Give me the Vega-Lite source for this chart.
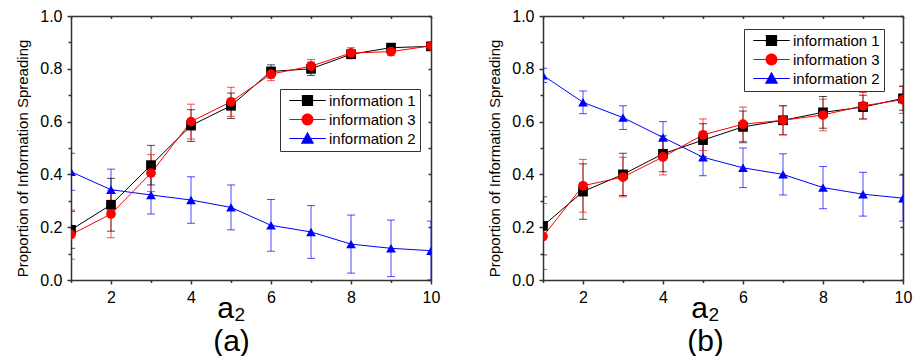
{
  "$schema": "https://vega.github.io/schema/vega-lite/v6.json",
  "padding": {"left": 15, "top": 8, "right": 5, "bottom": 0},
  "spacing": 47,
  "config": {
    "font": "Liberation Sans",
    "view": {"stroke": null},
    "axis": {"labelFont": "Liberation Sans", "labelFontSize": 16, "labelColor": "black", "domainColor": "#333", "tickColor": "#333", "domainWidth": 1.5, "tickWidth": 1.5, "grid": false, "labelFlush": false, "labelOverlap": false, "titleFontWeight": "normal", "titleColor": "black", "titleFont": "Liberation Sans"}
  },
  "data": {"values": [
    {"panel":"a","a2":1,"series":"information 1","y":0.19,"lo":0.12,"hi":0.26},
    {"panel":"a","a2":2,"series":"information 1","y":0.285,"lo":0.185,"hi":0.385},
    {"panel":"a","a2":3,"series":"information 1","y":0.435,"lo":0.36,"hi":0.51},
    {"panel":"a","a2":4,"series":"information 1","y":0.585,"lo":0.525,"hi":0.645},
    {"panel":"a","a2":5,"series":"information 1","y":0.66,"lo":0.612,"hi":0.708},
    {"panel":"a","a2":6,"series":"information 1","y":0.79,"lo":0.765,"hi":0.815},
    {"panel":"a","a2":7,"series":"information 1","y":0.80,"lo":0.775,"hi":0.825},
    {"panel":"a","a2":8,"series":"information 1","y":0.855,"lo":0.84,"hi":0.87},
    {"panel":"a","a2":9,"series":"information 1","y":0.88,"lo":0.87,"hi":0.89},
    {"panel":"a","a2":10,"series":"information 1","y":0.885,"lo":0.877,"hi":0.893},
    {"panel":"a","a2":1,"series":"information 2","y":0.41,"lo":0.34,"hi":0.48},
    {"panel":"a","a2":2,"series":"information 2","y":0.342,"lo":0.264,"hi":0.42},
    {"panel":"a","a2":3,"series":"information 2","y":0.322,"lo":0.25,"hi":0.395},
    {"panel":"a","a2":4,"series":"information 2","y":0.303,"lo":0.215,"hi":0.391},
    {"panel":"a","a2":5,"series":"information 2","y":0.275,"lo":0.19,"hi":0.36},
    {"panel":"a","a2":6,"series":"information 2","y":0.207,"lo":0.109,"hi":0.305},
    {"panel":"a","a2":7,"series":"information 2","y":0.182,"lo":0.082,"hi":0.282},
    {"panel":"a","a2":8,"series":"information 2","y":0.136,"lo":0.026,"hi":0.246},
    {"panel":"a","a2":9,"series":"information 2","y":0.12,"lo":0.013,"hi":0.227},
    {"panel":"a","a2":10,"series":"information 2","y":0.111,"lo":0.0,"hi":0.223},
    {"panel":"a","a2":1,"series":"information 3","y":0.172,"lo":0.079,"hi":0.265},
    {"panel":"a","a2":2,"series":"information 3","y":0.25,"lo":0.16,"hi":0.34},
    {"panel":"a","a2":3,"series":"information 3","y":0.405,"lo":0.335,"hi":0.475},
    {"panel":"a","a2":4,"series":"information 3","y":0.60,"lo":0.534,"hi":0.666},
    {"panel":"a","a2":5,"series":"information 3","y":0.675,"lo":0.62,"hi":0.73},
    {"panel":"a","a2":6,"series":"information 3","y":0.78,"lo":0.755,"hi":0.805},
    {"panel":"a","a2":7,"series":"information 3","y":0.81,"lo":0.785,"hi":0.835},
    {"panel":"a","a2":8,"series":"information 3","y":0.86,"lo":0.84,"hi":0.88},
    {"panel":"a","a2":9,"series":"information 3","y":0.865,"lo":0.85,"hi":0.88},
    {"panel":"a","a2":10,"series":"information 3","y":0.887,"lo":0.877,"hi":0.897},
    {"panel":"b","a2":1,"series":"information 1","y":0.205,"lo":0.095,"hi":0.315},
    {"panel":"b","a2":2,"series":"information 1","y":0.335,"lo":0.23,"hi":0.44},
    {"panel":"b","a2":3,"series":"information 1","y":0.40,"lo":0.32,"hi":0.48},
    {"panel":"b","a2":4,"series":"information 1","y":0.478,"lo":0.41,"hi":0.546},
    {"panel":"b","a2":5,"series":"information 1","y":0.53,"lo":0.468,"hi":0.592},
    {"panel":"b","a2":6,"series":"information 1","y":0.58,"lo":0.52,"hi":0.64},
    {"panel":"b","a2":7,"series":"information 1","y":0.605,"lo":0.55,"hi":0.66},
    {"panel":"b","a2":8,"series":"information 1","y":0.635,"lo":0.575,"hi":0.695},
    {"panel":"b","a2":9,"series":"information 1","y":0.655,"lo":0.61,"hi":0.70},
    {"panel":"b","a2":10,"series":"information 1","y":0.688,"lo":0.643,"hi":0.733},
    {"panel":"b","a2":1,"series":"information 2","y":0.775,"lo":0.748,"hi":0.802},
    {"panel":"b","a2":2,"series":"information 2","y":0.673,"lo":0.63,"hi":0.716},
    {"panel":"b","a2":3,"series":"information 2","y":0.615,"lo":0.57,"hi":0.66},
    {"panel":"b","a2":4,"series":"information 2","y":0.54,"lo":0.48,"hi":0.60},
    {"panel":"b","a2":5,"series":"information 2","y":0.465,"lo":0.395,"hi":0.535},
    {"panel":"b","a2":6,"series":"information 2","y":0.425,"lo":0.35,"hi":0.50},
    {"panel":"b","a2":7,"series":"information 2","y":0.40,"lo":0.322,"hi":0.478},
    {"panel":"b","a2":8,"series":"information 2","y":0.35,"lo":0.27,"hi":0.43},
    {"panel":"b","a2":9,"series":"information 2","y":0.325,"lo":0.242,"hi":0.408},
    {"panel":"b","a2":10,"series":"information 2","y":0.31,"lo":0.223,"hi":0.397},
    {"panel":"b","a2":1,"series":"information 3","y":0.165,"lo":0.04,"hi":0.29},
    {"panel":"b","a2":2,"series":"information 3","y":0.357,"lo":0.257,"hi":0.457},
    {"panel":"b","a2":3,"series":"information 3","y":0.39,"lo":0.315,"hi":0.465},
    {"panel":"b","a2":4,"series":"information 3","y":0.466,"lo":0.398,"hi":0.534},
    {"panel":"b","a2":5,"series":"information 3","y":0.55,"lo":0.49,"hi":0.61},
    {"panel":"b","a2":6,"series":"information 3","y":0.59,"lo":0.525,"hi":0.655},
    {"panel":"b","a2":7,"series":"information 3","y":0.605,"lo":0.55,"hi":0.66},
    {"panel":"b","a2":8,"series":"information 3","y":0.625,"lo":0.565,"hi":0.685},
    {"panel":"b","a2":9,"series":"information 3","y":0.66,"lo":0.61,"hi":0.71},
    {"panel":"b","a2":10,"series":"information 3","y":0.683,"lo":0.631,"hi":0.735}
  ]},
  "resolve": {"scale": {"x": "independent", "y": "independent", "color": "independent", "shape": "independent"}, "legend": {"color": "independent", "shape": "independent"}},
  "hconcat": [
    {
      "width": 360, "height": 264,
      "transform": [{"filter": "datum.panel == 'a'"}],
      "resolve": {"scale": {"color": "independent", "shape": "independent"}, "axis": {"x": "independent", "y": "independent"}},
      "layer": [
        {"mark": {"type": "rule", "clip": true, "opacity": 0.7, "strokeWidth": 1},
         "encoding": {
           "x": {"field": "a2", "type": "quantitative", "scale": {"domain": [1, 10], "nice": false, "zero": false}, "axis": {"orient": "bottom", "values": [2, 4, 6, 8, 10], "tickSize": 4, "labelPadding": 5, "title": ["a₂", "(a)"], "titleFontSize": 30, "titleX": 160, "titleY": 37, "titleBaseline": "alphabetic", "titleLineHeight": 33, "titleAlign": "center"}},
           "y": {"field": "lo", "type": "quantitative", "scale": {"domain": [0, 1], "nice": false, "zero": false}, "axis": {"orient": "left", "values": [0, 0.2, 0.4, 0.6, 0.8, 1], "format": ".1f", "tickSize": 4, "labelPadding": 5, "title": "Proportion of Information Spreading", "titleFontSize": 15, "titleX": -49, "titleY": 142, "titleAngle": 270, "titleBaseline": "middle", "titleAlign": "center"}},
           "y2": {"field": "hi"},
           "color": {"field": "series", "type": "nominal", "scale": {"domain": ["information 1", "information 3", "information 2"], "range": ["#000000", "#FF0000", "#0000FF"]}, "legend": null}
         }},
        {"mark": {"type": "tick", "clip": true, "opacity": 0.7, "orient": "horizontal", "size": 8, "thickness": 1},
         "encoding": {
           "x": {"field": "a2", "type": "quantitative", "scale": {"domain": [1, 10], "nice": false, "zero": false}, "axis": {"orient": "bottom", "values": [1, 3, 5, 7, 9], "tickSize": 2.5, "labels": false, "domain": false, "title": null}},
           "y": {"field": "lo", "type": "quantitative", "scale": {"domain": [0, 1], "nice": false, "zero": false}, "axis": {"orient": "left", "values": [0.1, 0.3, 0.5, 0.7, 0.9], "tickSize": 3, "labels": false, "domain": false, "title": null}},
           "color": {"field": "series", "type": "nominal", "scale": {"domain": ["information 1", "information 3", "information 2"], "range": ["#000000", "#FF0000", "#0000FF"]}, "legend": null}
         }},
        {"mark": {"type": "tick", "clip": true, "opacity": 0.7, "orient": "horizontal", "size": 8, "thickness": 1},
         "encoding": {
           "x": {"field": "a2", "type": "quantitative", "scale": {"domain": [1, 10], "nice": false, "zero": false}, "axis": {"orient": "top", "values": [1, 2, 3, 4, 5, 6, 7, 8, 9, 10], "tickSize": -2.5, "labels": false, "title": null}},
           "y": {"field": "hi", "type": "quantitative", "scale": {"domain": [0, 1], "nice": false, "zero": false}, "axis": {"orient": "right", "values": [0, 0.1, 0.2, 0.3, 0.4, 0.5, 0.6, 0.7, 0.8, 0.9, 1], "tickSize": -3, "labels": false, "title": null}},
           "color": {"field": "series", "type": "nominal", "scale": {"domain": ["information 1", "information 3", "information 2"], "range": ["#000000", "#FF0000", "#0000FF"]}, "legend": null}
         }},
        {"mark": {"type": "line", "clip": true, "strokeWidth": 1},
         "encoding": {
           "x": {"field": "a2", "type": "quantitative", "scale": {"domain": [1, 10], "nice": false, "zero": false}, "axis": null},
           "y": {"field": "y", "type": "quantitative", "scale": {"domain": [0, 1], "nice": false, "zero": false}, "axis": null},
           "color": {"field": "series", "type": "nominal", "scale": {"domain": ["information 1", "information 3", "information 2"], "range": ["#000000", "#FF0000", "#0000FF"]}, "legend": null}
         }},
        {"mark": {"type": "point", "clip": true, "filled": true, "opacity": 1, "size": 95},
         "encoding": {
           "x": {"field": "a2", "type": "quantitative", "scale": {"domain": [1, 10], "nice": false, "zero": false}, "axis": null},
           "y": {"field": "y", "type": "quantitative", "scale": {"domain": [0, 1], "nice": false, "zero": false}, "axis": null},
           "color": {"field": "series", "type": "nominal", "scale": {"domain": ["information 1", "information 3", "information 2"], "range": ["#000000", "#FF0000", "#0000FF"]}, "legend": null},
           "shape": {"field": "series", "type": "nominal", "scale": {"domain": ["information 1", "information 3", "information 2"], "range": ["square", "circle", "triangle-up"]}, "legend": null}
         }},
        {"transform": [{"filter": "datum.a2 > 100"}],
         "mark": {"type": "point", "filled": true, "opacity": 1, "size": 196},
         "encoding": {
           "x": {"field": "a2", "type": "quantitative", "scale": {"domain": [1, 10], "nice": false, "zero": false}, "axis": null},
           "y": {"field": "y", "type": "quantitative", "scale": {"domain": [0, 1], "nice": false, "zero": false}, "axis": null},
           "color": {"field": "series", "type": "nominal", "scale": {"domain": ["information 1", "information 3", "information 2"], "range": ["#000000", "#FF0000", "#0000FF"]}, "legend": {"title": null, "orient": "none", "legendX": 209, "legendY": 73, "strokeColor": "#333", "fillColor": "white", "padding": 4, "symbolSize": 196, "symbolOffset": 16, "labelOffset": 14, "labelFontSize": 15, "labelFont": "Liberation Sans", "labelColor": "black", "rowPadding": 3, "symbolStrokeWidth": 0}},
           "shape": {"field": "series", "type": "nominal", "scale": {"domain": ["information 1", "information 3", "information 2"], "range": ["M-2.6,-0.07H2.6V0.07H-2.6Z M-0.8,-0.8H0.8V0.8H-0.8Z", "M-2.6,-0.07H2.6V0.07H-2.6Z M-0.85,0A0.85,0.85 0 1,1 0.85,0A0.85,0.85 0 1,1 -0.85,0Z", "M-2.6,-0.07H2.6V0.07H-2.6Z M0,-0.95L0.95,0.75H-0.95Z"]}, "legend": {"title": null, "orient": "none", "legendX": 209, "legendY": 73, "strokeColor": "#333", "fillColor": "white", "padding": 4, "symbolSize": 196, "symbolOffset": 16, "labelOffset": 14, "labelFontSize": 15, "labelFont": "Liberation Sans", "labelColor": "black", "rowPadding": 3, "symbolStrokeWidth": 0}}
         }}
      ]
    },
    {
      "width": 360, "height": 264,
      "transform": [{"filter": "datum.panel == 'b'"}],
      "resolve": {"scale": {"color": "independent", "shape": "independent"}, "axis": {"x": "independent", "y": "independent"}},
      "layer": [
        {"mark": {"type": "rule", "clip": true, "opacity": 0.7, "strokeWidth": 1},
         "encoding": {
           "x": {"field": "a2", "type": "quantitative", "scale": {"domain": [1, 10], "nice": false, "zero": false}, "axis": {"orient": "bottom", "values": [2, 4, 6, 8, 10], "tickSize": 4, "labelPadding": 5, "title": ["a₂", "(b)"], "titleFontSize": 30, "titleX": 162, "titleY": 37, "titleBaseline": "alphabetic", "titleLineHeight": 33, "titleAlign": "center"}},
           "y": {"field": "lo", "type": "quantitative", "scale": {"domain": [0, 1], "nice": false, "zero": false}, "axis": {"orient": "left", "values": [0, 0.2, 0.4, 0.6, 0.8, 1], "format": ".1f", "tickSize": 4, "labelPadding": 5, "title": "Proportion of Information Spreading", "titleFontSize": 15, "titleX": -49, "titleY": 142, "titleAngle": 270, "titleBaseline": "middle", "titleAlign": "center"}},
           "y2": {"field": "hi"},
           "color": {"field": "series", "type": "nominal", "scale": {"domain": ["information 1", "information 3", "information 2"], "range": ["#000000", "#FF0000", "#0000FF"]}, "legend": null}
         }},
        {"mark": {"type": "tick", "clip": true, "opacity": 0.7, "orient": "horizontal", "size": 8, "thickness": 1},
         "encoding": {
           "x": {"field": "a2", "type": "quantitative", "scale": {"domain": [1, 10], "nice": false, "zero": false}, "axis": {"orient": "bottom", "values": [1, 3, 5, 7, 9], "tickSize": 2.5, "labels": false, "domain": false, "title": null}},
           "y": {"field": "lo", "type": "quantitative", "scale": {"domain": [0, 1], "nice": false, "zero": false}, "axis": {"orient": "left", "values": [0.1, 0.3, 0.5, 0.7, 0.9], "tickSize": 3, "labels": false, "domain": false, "title": null}},
           "color": {"field": "series", "type": "nominal", "scale": {"domain": ["information 1", "information 3", "information 2"], "range": ["#000000", "#FF0000", "#0000FF"]}, "legend": null}
         }},
        {"mark": {"type": "tick", "clip": true, "opacity": 0.7, "orient": "horizontal", "size": 8, "thickness": 1},
         "encoding": {
           "x": {"field": "a2", "type": "quantitative", "scale": {"domain": [1, 10], "nice": false, "zero": false}, "axis": {"orient": "top", "values": [1, 2, 3, 4, 5, 6, 7, 8, 9, 10], "tickSize": -2.5, "labels": false, "title": null}},
           "y": {"field": "hi", "type": "quantitative", "scale": {"domain": [0, 1], "nice": false, "zero": false}, "axis": {"orient": "right", "values": [0, 0.1, 0.2, 0.3, 0.4, 0.5, 0.6, 0.7, 0.8, 0.9, 1], "tickSize": -3, "labels": false, "title": null}},
           "color": {"field": "series", "type": "nominal", "scale": {"domain": ["information 1", "information 3", "information 2"], "range": ["#000000", "#FF0000", "#0000FF"]}, "legend": null}
         }},
        {"mark": {"type": "line", "clip": true, "strokeWidth": 1},
         "encoding": {
           "x": {"field": "a2", "type": "quantitative", "scale": {"domain": [1, 10], "nice": false, "zero": false}, "axis": null},
           "y": {"field": "y", "type": "quantitative", "scale": {"domain": [0, 1], "nice": false, "zero": false}, "axis": null},
           "color": {"field": "series", "type": "nominal", "scale": {"domain": ["information 1", "information 3", "information 2"], "range": ["#000000", "#FF0000", "#0000FF"]}, "legend": null}
         }},
        {"mark": {"type": "point", "clip": true, "filled": true, "opacity": 1, "size": 95},
         "encoding": {
           "x": {"field": "a2", "type": "quantitative", "scale": {"domain": [1, 10], "nice": false, "zero": false}, "axis": null},
           "y": {"field": "y", "type": "quantitative", "scale": {"domain": [0, 1], "nice": false, "zero": false}, "axis": null},
           "color": {"field": "series", "type": "nominal", "scale": {"domain": ["information 1", "information 3", "information 2"], "range": ["#000000", "#FF0000", "#0000FF"]}, "legend": null},
           "shape": {"field": "series", "type": "nominal", "scale": {"domain": ["information 1", "information 3", "information 2"], "range": ["square", "circle", "triangle-up"]}, "legend": null}
         }},
        {"transform": [{"filter": "datum.a2 > 100"}],
         "mark": {"type": "point", "filled": true, "opacity": 1, "size": 196},
         "encoding": {
           "x": {"field": "a2", "type": "quantitative", "scale": {"domain": [1, 10], "nice": false, "zero": false}, "axis": null},
           "y": {"field": "y", "type": "quantitative", "scale": {"domain": [0, 1], "nice": false, "zero": false}, "axis": null},
           "color": {"field": "series", "type": "nominal", "scale": {"domain": ["information 1", "information 3", "information 2"], "range": ["#000000", "#FF0000", "#0000FF"]}, "legend": {"title": null, "orient": "none", "legendX": 201, "legendY": 13, "strokeColor": "#333", "fillColor": "white", "padding": 4, "symbolSize": 196, "symbolOffset": 16, "labelOffset": 14, "labelFontSize": 15, "labelFont": "Liberation Sans", "labelColor": "black", "rowPadding": 3, "symbolStrokeWidth": 0}},
           "shape": {"field": "series", "type": "nominal", "scale": {"domain": ["information 1", "information 3", "information 2"], "range": ["M-2.6,-0.07H2.6V0.07H-2.6Z M-0.8,-0.8H0.8V0.8H-0.8Z", "M-2.6,-0.07H2.6V0.07H-2.6Z M-0.85,0A0.85,0.85 0 1,1 0.85,0A0.85,0.85 0 1,1 -0.85,0Z", "M-2.6,-0.07H2.6V0.07H-2.6Z M0,-0.95L0.95,0.75H-0.95Z"]}, "legend": {"title": null, "orient": "none", "legendX": 201, "legendY": 13, "strokeColor": "#333", "fillColor": "white", "padding": 4, "symbolSize": 196, "symbolOffset": 16, "labelOffset": 14, "labelFontSize": 15, "labelFont": "Liberation Sans", "labelColor": "black", "rowPadding": 3, "symbolStrokeWidth": 0}}
         }}
      ]
    }
  ]
}
